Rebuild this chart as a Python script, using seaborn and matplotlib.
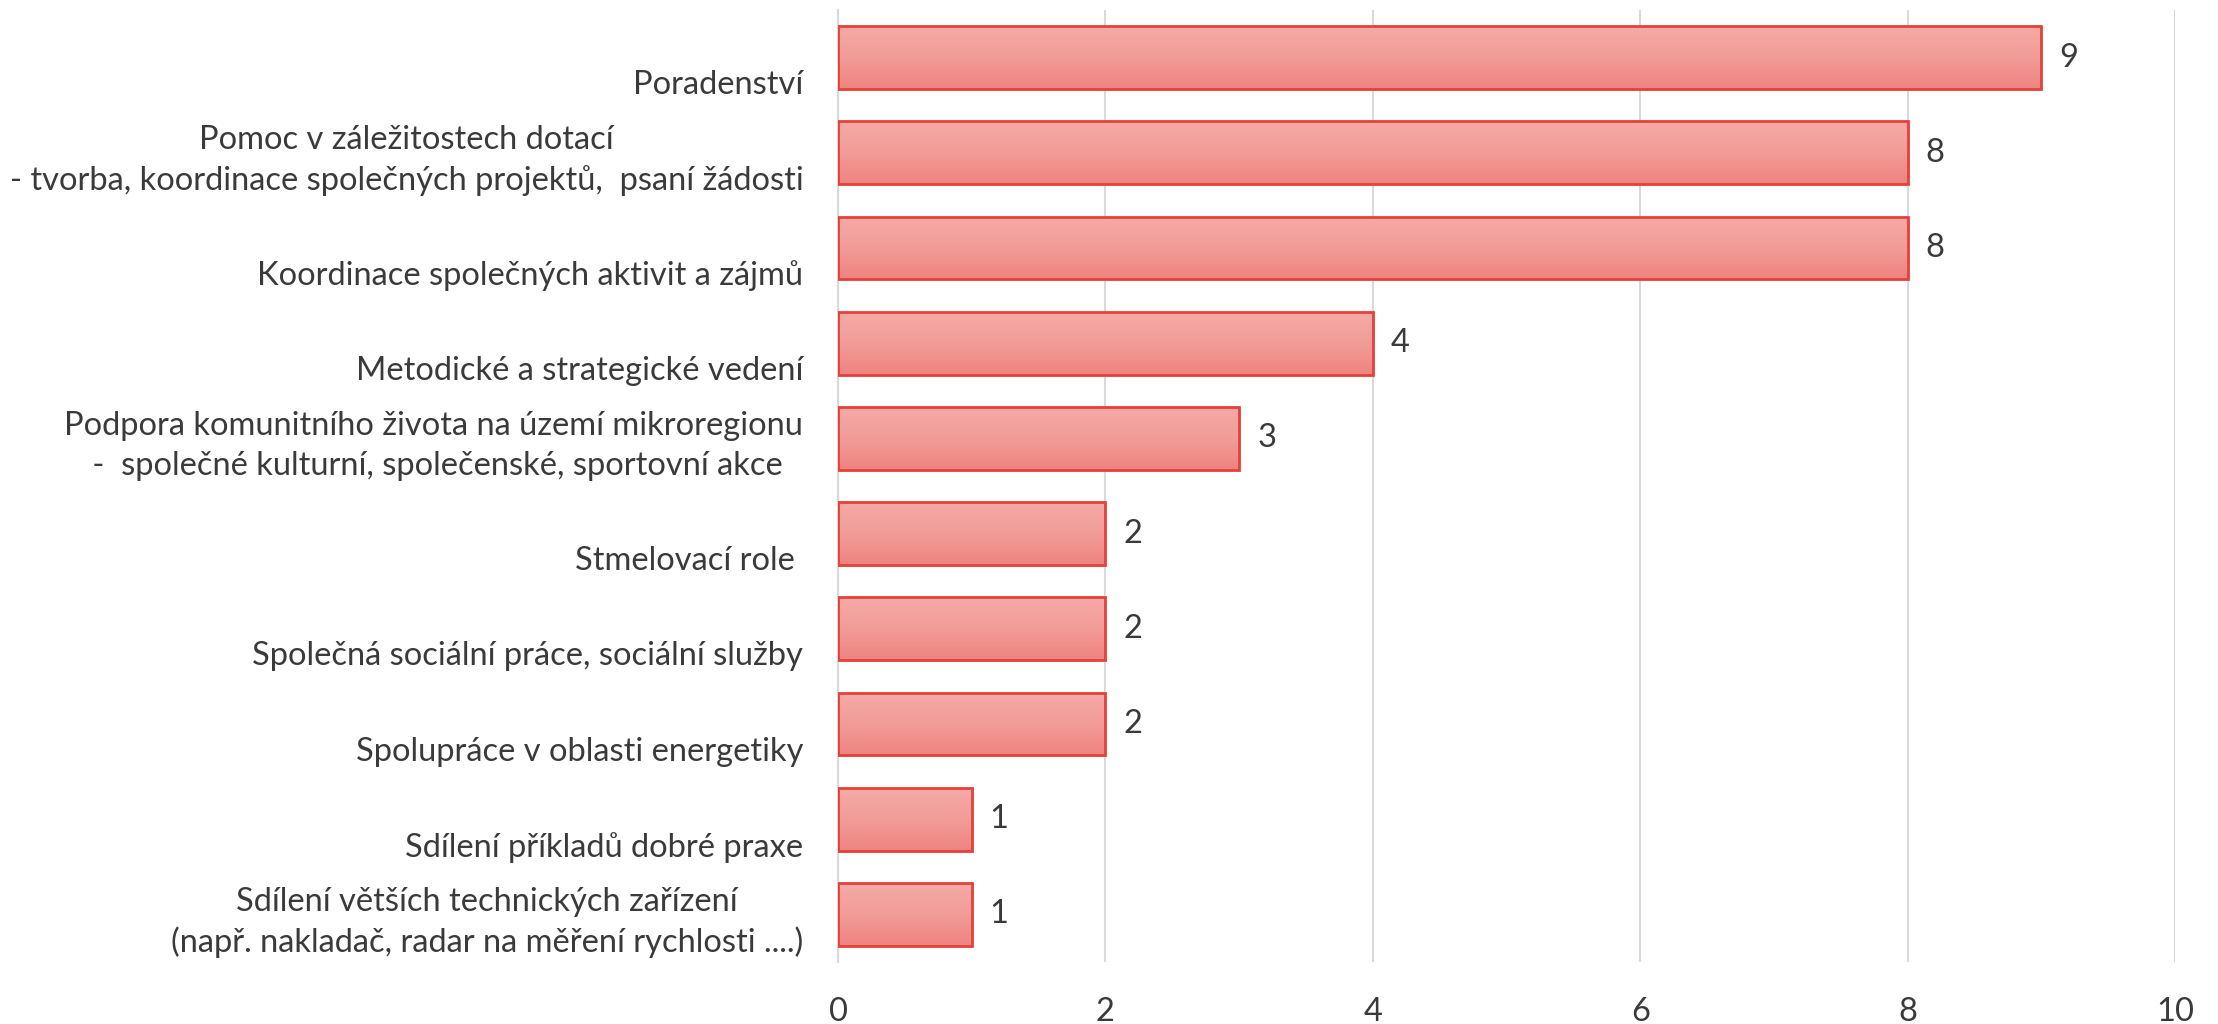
import numpy as np
import pandas as pd
import matplotlib
matplotlib.use("Agg")
import matplotlib.pyplot as plt
import seaborn as sns
from matplotlib.colors import LinearSegmentedColormap

categories = [
    "\nPoradenství",
    "Pomoc v záležitostech dotací\n- tvorba, koordinace společných projektů,  psaní žádosti",
    "\nKoordinace společných aktivit a zájmů",
    "\nMetodické a strategické vedení",
    "Podpora komunitního života na území mikroregionu\n -  společné kulturní, společenské, sportovní akce",
    "\nStmelovací role ",
    "\nSpolečná sociální práce, sociální služby",
    "\nSpolupráce v oblasti energetiky",
    "\nSdílení příkladů dobré praxe",
    "Sdílení větších technických zařízení\n(např. nakladač, radar na měření rychlosti ....)",
]
values = [9, 8, 8, 4, 3, 2, 2, 2, 1, 1]
x_ticks = [0, 2, 4, 6, 8, 10]

df = pd.DataFrame({"category": categories, "value": values})

sns.set_theme(style="white")
plt.rcParams["font.family"] = ["Lato", "DejaVu Sans"]

TEXT = "#3A3A3A"
EDGE = "#E5403A"
FS = 23.5

fig = plt.figure(figsize=(22.18, 10.24), dpi=100)
ax = fig.add_axes([838 / 2218, 1 - 962 / 1024, (2175 - 838) / 2218, (962 - 10) / 1024])

sns.barplot(data=df, y="category", x="value", orient="h", color="#F29490",
            width=0.66, edgecolor=EDGE, linewidth=2.0, ax=ax, zorder=3)

ax.set_xlim(0, 10)
ylim = ax.get_ylim()

# vertical gradient fill inside each bar
grad = np.linspace(0, 1, 256).reshape(-1, 1)
cmap = LinearSegmentedColormap.from_list("g", ["#F5AAA7", "#F29C98", "#EF837F"])
for p in ax.patches:
    x0, y0 = p.get_x(), p.get_y()
    w, h = p.get_width(), p.get_height()
    im = ax.imshow(grad, cmap=cmap, aspect="auto", origin="upper",
                   extent=(x0, x0 + w, y0 + h, y0), zorder=2.9, interpolation="bilinear")
    im.set_clip_path(p)
    p.set_facecolor("none")

ax.set_xlim(0, 10)
ax.set_ylim(ylim)

ax.set_xticks(x_ticks)
ax.set_xticklabels([str(t) for t in x_ticks])
ax.grid(axis="x", color="#D9D9D9", linewidth=1.5, zorder=0)
ax.grid(axis="y", visible=False)
ax.set_axisbelow(True)
for s in ["top", "right", "bottom"]:
    ax.spines[s].set_visible(False)
ax.spines["left"].set_color("#D9D9D9")
ax.spines["left"].set_linewidth(1.5)

ax.tick_params(axis="x", length=0, pad=25, labelsize=FS, labelcolor=TEXT)
ax.tick_params(axis="y", length=0, pad=25, labelsize=FS, labelcolor=TEXT)
for lab in ax.get_yticklabels():
    lab.set_multialignment("center")
    lab.set_linespacing(1.4)

ax.set_xlabel("")
ax.set_ylabel("")

for c in ax.containers:
    ax.bar_label(c, labels=[str(v) for v in values], padding=13, fontsize=FS, color=TEXT)

fig.savefig("out.png", dpi=100, facecolor="white")
